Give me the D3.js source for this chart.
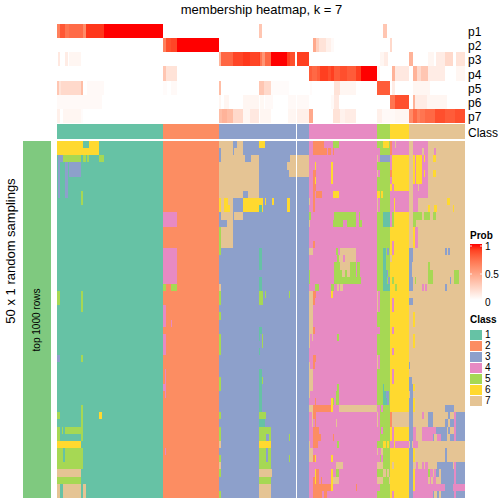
<!DOCTYPE html>
<html><head><meta charset="utf-8">
<style>html,body{margin:0;padding:0;background:#fff}svg{display:block}text{font-family:"Liberation Sans",Arial,sans-serif;fill:#000}</style>
<script src="https://cdn.jsdelivr.net/npm/d3@7"></script></head><body>
<div id="c"></div>
<script>
const titleText = "membership heatmap, k = 7";
const sampleCount = 408, rowCount = 50, gapSample = 239;
const classIds = [1,2,3,4,5,6,7];
const classColors = ["#66C2A5","#FC8D62","#8DA0CB","#E78AC3","#A6D854","#FFD92F","#E5C494"];
const classBlocks = [[0,106,1],[106,162,2],[162,252,3],[252,320,4],[320,333,5],[333,352,6],[352,408,7]];
const probTicks = [[1,"1"],[0.5,"0.5"],[0,"0"]];
const probNames = ["p1","p2","p3","p4","p5","p6","p7"];
const p1 = [[0,3,.65],[3,8,.82],[8,12,.7],[12,26,.74],[26,29,.6],[29,47,.92],[47,106,1],[202,205,.3],[326,330,.3]];
const p2 = [[106,109,.65],[109,114,.85],[114,120,.88],[120,162,1],[256,259,.45],[259,262,.25],[262,269,.15],[269,274,.08],[274,277,.03],[333,335,.2]];
const p3 = [[1,3,.12],[8,11,.1],[12,24,.05],[162,164,.4],[164,176,.76],[176,186,.88],[186,193,.92],[193,202,.88],[202,203,.9],[203,205,.7],[205,208,.55],[208,214,.75],[214,230,1],[230,233,.9],[233,238,.85],[240,252,.9],[323,327,.05],[327,331,.1],[352,356,.4],[371,377,.05],[379,388,.1],[388,391,.2],[391,396,.2],[399,408,.15]];
const p4 = [[106,109,.3],[109,120,.15],[252,255,.8],[255,260,.75],[260,263,.8],[263,271,.9],[271,274,.85],[274,277,.9],[277,283,.8],[283,290,.85],[290,299,.8],[299,304,.9],[304,320,1],[320,323,.05],[335,338,.4],[338,352,.12],[356,360,.4],[360,364,.2],[364,371,.3],[371,379,.1],[379,388,.1],[399,408,.05]];
const p5 = [[0,2,.3],[2,4,.15],[4,24,.2],[24,26,.35],[30,47,.03],[106,110,.02],[114,120,.03],[162,164,.35],[202,207,.3],[207,214,.2],[214,232,.02],[253,255,.02],[277,283,.15],[283,299,.05],[320,333,.8],[335,338,.1],[356,363,.05],[363,373,.05]];
const p6 = [[0,45,.03],[162,164,.05],[167,172,.05],[186,202,.05],[203,207,.04],[208,216,.03],[231,252,.03],[274,277,.03],[277,282,.12],[333,338,.7],[338,352,.85],[356,358,.4],[358,370,.1],[370,390,.05]];
const p7 = [[0,3,.08],[6,24,.05],[24,26,.02],[162,165,.35],[165,170,.4],[170,176,.35],[176,186,.2],[186,193,.05],[193,202,.12],[203,214,.05],[231,239,.05],[240,252,.08],[252,256,.45],[276,283,.15],[283,288,.07],[288,299,.1],[320,325,.08],[325,338,.03],[338,352,.05],[352,356,.6],[356,360,.75],[360,363,.65],[363,368,.7],[368,378,.75],[378,388,.85],[388,398,.8],[398,408,.85]];
const probRows = [p1,p2,p3,p4,p5,p6,p7];
// [firstRow,lastRow,firstSample,endSample,class]
const class1Patches = [[0,0,0,26,6],[0,0,32,42,6],[1,1,0,42,6],[2,2,1,6,3],[2,2,6,24,5],[2,2,26,29,5],[2,2,30,32,5],[2,2,42,47,5],[3,7,1,3,3],[3,7,8,11,3],[3,4,12,24,3],[7,8,24,26,5],[21,22,0,3,5],[21,23,24,26,5],[30,30,0,3,3],[30,30,24,26,5],[37,41,24,26,5],[38,38,0,3,5],[38,38,42,45,6],[40,40,0,3,5],[40,40,5,6,5],[40,40,8,26,5],[41,41,0,3,5],[42,42,0,24,6],[43,44,0,6,5],[43,44,8,26,5],[45,45,0,26,5],[46,46,0,24,7],[47,47,0,24,5],[48,49,0,3,7],[48,49,6,24,7],[48,49,26,29,7]];
const class2Patches = [[10,11,106,120,4],[15,19,106,120,4],[20,20,106,109,5],[20,20,114,120,5],[23,25,106,109,4],[25,25,114,115,4],[27,29,106,109,4],[32,35,108,109,4],[34,34,106,109,4],[43,43,108,109,4]];
const class3Patches = [[0,0,162,176,7],[0,0,180,186,7],[0,0,202,208,6],[1,1,164,176,7],[1,1,177,186,7],[2,2,164,188,7],[2,2,194,202,7],[2,2,233,252,7],[3,3,162,202,7],[3,3,230,252,7],[4,4,162,202,7],[4,4,232,252,7],[5,6,162,202,7],[7,7,162,186,7],[7,7,191,202,7],[8,8,162,164,6],[8,8,164,167,7],[8,8,167,171,6],[8,8,171,176,7],[8,8,186,206,6],[8,8,208,209,6],[8,8,215,217,6],[8,8,230,233,6],[9,9,162,164,6],[9,9,164,167,7],[9,9,167,173,6],[9,9,173,176,7],[9,9,186,202,6],[9,9,202,205,1],[9,9,205,206,6],[9,9,230,233,6],[10,10,164,176,7],[10,10,177,186,7],[11,11,170,176,7],[12,15,162,164,5],[12,14,164,176,7],[15,17,202,205,1],[19,20,202,205,1],[20,20,162,164,7],[21,22,162,164,5],[21,22,202,206,5],[21,21,208,209,5],[21,21,232,233,5],[24,24,162,164,5],[26,26,202,205,1],[27,27,202,203,1],[27,28,205,206,5],[27,29,162,164,5],[29,29,202,203,1],[32,32,202,205,1],[33,34,162,164,5],[33,37,202,205,1],[33,33,205,206,5],[38,38,162,164,5],[38,38,202,209,5],[39,39,202,208,1],[40,41,162,164,5],[40,41,202,214,5],[41,41,209,212,3],[41,41,232,233,5],[42,42,162,164,7],[42,42,202,214,6],[43,44,202,214,5],[43,44,209,211,3],[44,44,162,164,5],[44,44,232,233,5],[45,45,162,164,7],[45,45,202,214,5],[46,46,162,164,5],[46,46,202,215,7],[47,47,202,214,5],[48,49,202,214,7],[49,49,162,164,5]];
const class4Patches = [[0,0,256,267,2],[0,0,276,282,5],[1,1,256,270,2],[1,1,271,274,2],[1,1,276,277,2],[3,3,258,259,6],[3,5,274,276,6],[4,4,256,259,2],[5,5,256,258,2],[5,5,258,259,6],[6,6,256,259,2],[7,7,256,258,2],[7,7,259,265,2],[7,7,276,282,6],[8,8,252,253,7],[8,9,256,258,2],[10,10,252,254,5],[10,10,277,283,5],[11,11,252,253,7],[11,11,276,283,5],[14,14,256,258,2],[15,15,252,256,7],[15,15,279,281,5],[16,16,280,282,5],[16,16,282,283,7],[17,19,277,283,5],[18,19,252,253,5],[20,20,258,262,5],[20,20,274,277,5],[20,20,280,282,7],[21,26,252,256,7],[21,21,256,259,2],[21,21,274,276,6],[22,22,256,258,2],[26,26,256,258,2],[27,27,252,253,7],[27,27,255,256,7],[27,27,280,282,5],[28,28,252,253,7],[30,30,256,259,2],[31,31,252,253,7],[31,31,256,258,2],[32,34,252,256,7],[34,34,280,282,5],[35,35,252,253,7],[35,36,279,282,5],[36,36,258,259,2],[36,36,274,276,6],[36,36,276,277,5],[37,37,252,256,7],[37,37,256,274,2],[37,37,274,276,6],[37,37,282,283,7],[38,38,255,256,7],[38,38,256,259,2],[39,39,255,256,7],[39,39,258,259,2],[39,39,279,280,7],[40,40,256,262,2],[41,41,256,264,2],[41,41,276,277,2],[42,42,252,253,7],[42,42,256,261,2],[42,42,280,282,5],[43,44,252,256,7],[44,44,256,258,2],[44,44,258,259,6],[44,44,274,276,6],[45,45,279,283,7],[46,46,258,259,6],[46,46,259,262,2],[46,46,274,276,6],[46,46,279,282,5],[47,47,256,258,2],[47,47,258,259,6],[47,47,259,262,2],[47,47,264,265,2],[47,47,274,276,6],[47,47,276,282,7],[48,48,256,274,2],[48,48,274,276,6],[49,49,256,265,2],[49,49,267,270,2]];
const rightPatches = [[0,0,326,332,6],[0,0,333,335,2],[0,0,335,352,4],[0,0,338,339,7],[0,0,356,371,4],[1,1,320,323,4],[1,1,333,335,2],[1,1,335,352,4],[1,1,356,365,4],[1,1,367,371,4],[1,1,377,379,4],[2,2,320,321,7],[2,2,321,323,4],[2,2,323,333,3],[2,2,333,335,4],[2,2,356,358,6],[2,2,358,359,4],[2,2,359,365,6],[2,2,365,367,4],[2,2,367,368,6],[2,2,368,371,4],[2,2,376,379,6],[3,3,333,335,4],[3,3,356,358,6],[3,3,358,359,4],[3,3,359,365,6],[3,3,365,371,4],[4,4,320,321,7],[4,4,321,323,4],[4,4,333,335,2],[4,4,356,358,6],[4,4,358,359,4],[4,4,359,365,6],[4,4,365,367,4],[4,4,367,368,6],[4,4,368,371,4],[4,4,376,379,6],[5,5,333,335,4],[5,5,356,358,6],[5,5,358,359,4],[5,5,359,365,6],[5,5,365,371,4],[6,6,335,337,4],[6,6,356,361,4],[6,6,362,371,4],[7,7,320,323,6],[7,7,324,326,6],[7,7,333,352,4],[7,7,356,371,4],[8,8,320,321,7],[8,8,321,323,4],[8,8,333,352,4],[8,8,337,338,6],[8,8,356,361,4],[8,8,390,393,6],[9,9,320,321,7],[9,9,321,323,4],[9,9,333,352,4],[9,9,337,338,6],[9,9,356,361,4],[9,9,371,373,6],[9,9,377,380,6],[9,9,396,397,6],[10,10,283,299,5],[10,10,302,303,5],[10,10,326,333,1],[10,10,333,335,4],[10,10,335,337,5],[10,10,356,365,5],[10,10,367,373,5],[10,10,376,379,5],[11,11,283,286,5],[11,11,290,299,5],[11,11,302,305,5],[11,11,326,333,1],[11,11,333,335,4],[11,11,335,337,5],[11,11,356,359,5],[12,14,356,358,6],[12,14,358,361,4],[14,14,335,337,4],[15,15,283,299,7],[15,15,326,329,1],[15,15,330,332,3],[15,15,335,337,4],[15,15,352,356,3],[15,15,388,390,3],[15,15,391,393,3],[16,16,283,286,7],[16,16,286,288,4],[16,16,288,299,7],[16,16,326,329,1],[16,16,333,335,7],[16,16,352,356,3],[17,17,283,293,7],[17,17,293,299,5],[17,17,300,303,5],[17,17,326,329,1],[17,17,352,355,3],[17,17,371,373,5],[18,18,283,285,5],[18,18,285,288,7],[18,18,288,290,5],[18,18,290,293,7],[18,18,293,299,5],[18,18,300,303,5],[18,18,326,330,1],[18,18,330,331,3],[18,18,352,355,3],[18,18,371,376,5],[18,18,397,402,5],[19,19,283,304,5],[19,19,305,306,4],[19,19,326,330,1],[19,19,331,333,3],[19,19,335,337,5],[19,19,352,356,3],[19,19,358,359,5],[19,19,371,376,5],[19,19,393,394,3],[19,19,397,402,5],[20,20,283,286,7],[20,20,326,333,1],[20,20,333,335,6],[20,20,338,340,5],[20,20,352,356,3],[20,20,365,367,4],[20,20,368,370,4],[20,20,388,390,3],[21,23,320,321,7],[21,23,321,323,4],[22,23,335,337,4],[22,22,352,356,3],[24,25,356,358,6],[26,26,320,323,4],[26,26,335,337,4],[27,28,356,358,6],[29,29,335,337,4],[30,31,320,321,7],[30,31,321,323,4],[31,31,352,353,3],[32,33,335,337,4],[33,33,352,355,3],[34,34,326,327,1],[34,34,352,356,3],[34,34,356,358,6],[35,35,326,329,1],[35,35,329,332,3],[35,35,352,353,7],[35,35,353,356,3],[36,36,326,330,1],[36,36,330,332,3],[36,36,352,356,3],[36,36,356,358,6],[37,37,283,320,7],[37,37,320,323,4],[37,37,324,326,4],[37,37,352,356,3],[37,37,356,358,6],[37,37,388,397,3],[38,39,320,321,7],[38,39,321,323,4],[38,39,333,335,2],[38,39,335,352,7],[38,39,352,356,3],[38,38,365,367,4],[38,39,371,376,3],[38,38,391,393,3],[38,39,397,399,4],[38,39,399,408,3],[39,39,388,391,3],[39,39,393,397,3],[40,41,320,323,4],[40,40,324,326,4],[40,41,335,337,4],[40,41,352,356,3],[40,40,356,359,4],[40,40,365,379,4],[40,40,379,390,3],[40,40,391,393,3],[40,41,397,399,4],[40,41,399,408,3],[41,41,356,359,4],[41,41,365,376,4],[41,41,376,377,3],[41,41,380,384,4],[41,41,384,390,3],[41,41,393,397,3],[42,42,326,329,6],[42,42,330,332,6],[42,42,333,337,4],[42,42,338,352,4],[42,42,353,355,3],[42,42,356,361,4],[43,43,320,321,7],[43,43,321,324,4],[43,43,324,326,7],[43,43,352,356,3],[43,44,356,358,6],[43,44,388,390,3],[44,44,320,323,4],[44,44,324,326,4],[44,44,352,356,3],[45,45,283,286,7],[45,45,320,326,7],[45,45,335,337,7],[45,45,352,356,3],[45,45,359,361,4],[45,45,365,367,4],[45,45,368,371,4],[45,45,380,396,3],[45,45,396,397,7],[45,45,397,399,4],[45,45,399,408,3],[46,46,326,329,7],[46,46,330,332,7],[46,46,352,356,3],[46,46,356,358,6],[46,46,358,371,4],[46,46,371,373,5],[46,46,373,376,4],[46,46,377,379,4],[46,46,379,382,3],[46,46,384,397,3],[46,46,397,399,4],[46,46,399,408,3],[47,47,320,326,7],[47,47,332,333,7],[47,47,352,356,3],[47,47,356,358,6],[47,47,358,371,4],[47,47,371,373,7],[47,47,373,374,4],[47,47,374,376,7],[47,47,376,379,4],[47,47,379,382,7],[47,47,384,397,3],[47,47,397,399,4],[47,47,399,408,3],[48,48,299,300,2],[48,48,320,323,4],[48,48,352,356,3],[48,48,356,358,6],[48,48,358,388,4],[48,48,388,396,3],[48,48,396,408,4],[49,49,335,337,4],[49,49,352,356,3],[49,49,356,376,4],[49,49,376,377,3],[49,49,380,382,3],[49,49,384,397,3],[49,49,397,399,4],[49,49,399,408,3]];

const W=504,H=504;
const svg=d3.select("#c").append("svg").attr("width",W).attr("height",H);
const x=d3.scaleLinear().domain([0,sampleCount]).range([57,465]);
const yHeat=d3.scaleBand().domain(probNames).range([24,123]);
const yMain=d3.scaleBand().domain(d3.range(rowCount)).range([141,498]);
const classColor=d3.scaleOrdinal().domain(classIds).range(classColors);
const probColor=d3.scaleLinear().domain([0,1]).range(["#ffffff","#ff0000"]).interpolate(d3.interpolateLab);
const crisp=s=>s.attr("shape-rendering","crispEdges");

// probability rows
probRows.forEach((segs,i)=>{
  crisp(svg.append("g").selectAll("rect").data(segs).join("rect"))
    .attr("x",d=>x(d[0])).attr("width",d=>x(d[1])-x(d[0]))
    .attr("y",yHeat(probNames[i])).attr("height",yHeat.bandwidth())
    .attr("fill",d=>probColor(d[2]));
  svg.append("text").attr("x",468).attr("y",yHeat(probNames[i])+yHeat.bandwidth()/2+5).attr("font-size",12).text(probNames[i]);
});
// class annotation
crisp(svg.append("g").selectAll("rect").data(classBlocks).join("rect"))
  .attr("x",d=>x(d[0])).attr("width",d=>x(d[1])-x(d[0])).attr("y",124).attr("height",14.5)
  .attr("fill",d=>classColor(d[2]));
svg.append("text").attr("x",468).attr("y",137).attr("font-size",12).text("Class");

// membership matrix
const matrix=d3.range(rowCount).map(()=>{
  const r=new Array(sampleCount);
  classBlocks.forEach(b=>{for(let c=b[0];c<b[1];c++)r[c]=b[2];});
  return r;
});
[class1Patches,class2Patches,class3Patches,class4Patches,rightPatches].forEach(list=>list.forEach(p=>{
  for(let r=p[0];r<=p[1];r++)for(let c=p[2];c<p[3];c++)matrix[r][c]=p[4];
}));
const runs=[];
matrix.forEach((r,ri)=>{
  let s=0;
  for(let c=1;c<=sampleCount;c++){
    if(c===sampleCount||r[c]!==r[s]){runs.push({r:ri,c0:s,c1:c,k:r[s]});s=c;}
  }
});
crisp(svg.append("g").selectAll("rect").data(runs).join("rect"))
  .attr("x",d=>x(d.c0)).attr("width",d=>x(d.c1)-x(d.c0))
  .attr("y",d=>yMain(d.r)).attr("height",yMain.bandwidth())
  .attr("fill",d=>classColor(d.k));
// white separator column
crisp(svg.append("rect")).attr("x",x(gapSample)).attr("width",x(gapSample+1)-x(gapSample)).attr("y",24).attr("height",474).attr("fill","#fff");

// left annotation
crisp(svg.append("rect")).attr("x",23).attr("y",141).attr("width",28).attr("height",357).attr("fill","#7FC97F");
svg.append("text").attr("transform","translate(40,320) rotate(-90)").attr("text-anchor","middle").attr("font-size",10).text("top 1000 rows");
svg.append("text").attr("transform","translate(15,251) rotate(-90)").attr("text-anchor","middle").attr("font-size",13).text("50 x 1 random samplings");

// title
svg.append("text").attr("x",261.5).attr("y",14).attr("text-anchor","middle").attr("font-size",13).text(titleText);

// Prob legend
svg.append("text").attr("x",470).attr("y",239).attr("font-size",10).attr("font-weight","bold").text("Prob");
const grad=svg.append("defs").append("linearGradient").attr("id","pg").attr("x1",0).attr("x2",0).attr("y1",0).attr("y2",1);
d3.range(0,1.01,0.1).forEach(t=>grad.append("stop").attr("offset",t).attr("stop-color",probColor(1-t)));
svg.append("rect").attr("x",470).attr("y",244).attr("width",12).attr("height",56).attr("fill","url(#pg)");
const yProb=d3.scaleLinear().domain([0,1]).range([302,246]);
probTicks.forEach(t=>{
  const y=yProb(t[0]);
  svg.append("text").attr("x",485).attr("y",y+3.5).attr("font-size",10).text(t[1]);
  if(t[0]>0){
    svg.append("line").attr("x1",470).attr("x2",472).attr("y1",y).attr("y2",y).attr("stroke","#fff").attr("stroke-width",.8);
    svg.append("line").attr("x1",480).attr("x2",482).attr("y1",y).attr("y2",y).attr("stroke","#fff").attr("stroke-width",.8);
  }
});
// Class legend
svg.append("text").attr("x",470).attr("y",323).attr("font-size",10).attr("font-weight","bold").text("Class");
const yLeg=d3.scaleBand().domain(classIds).range([329,406]);
crisp(svg.append("g").selectAll("rect").data(classIds).join("rect"))
  .attr("x",470).attr("width",12).attr("y",d=>yLeg(d)+.5).attr("height",yLeg.bandwidth()-1)
  .attr("fill",d=>classColor(d));
svg.append("g").selectAll("text").data(classIds).join("text")
  .attr("x",485).attr("y",d=>yLeg(d)+yLeg.bandwidth()/2+3.5).attr("font-size",10).text(d=>d);
</script></body></html>
